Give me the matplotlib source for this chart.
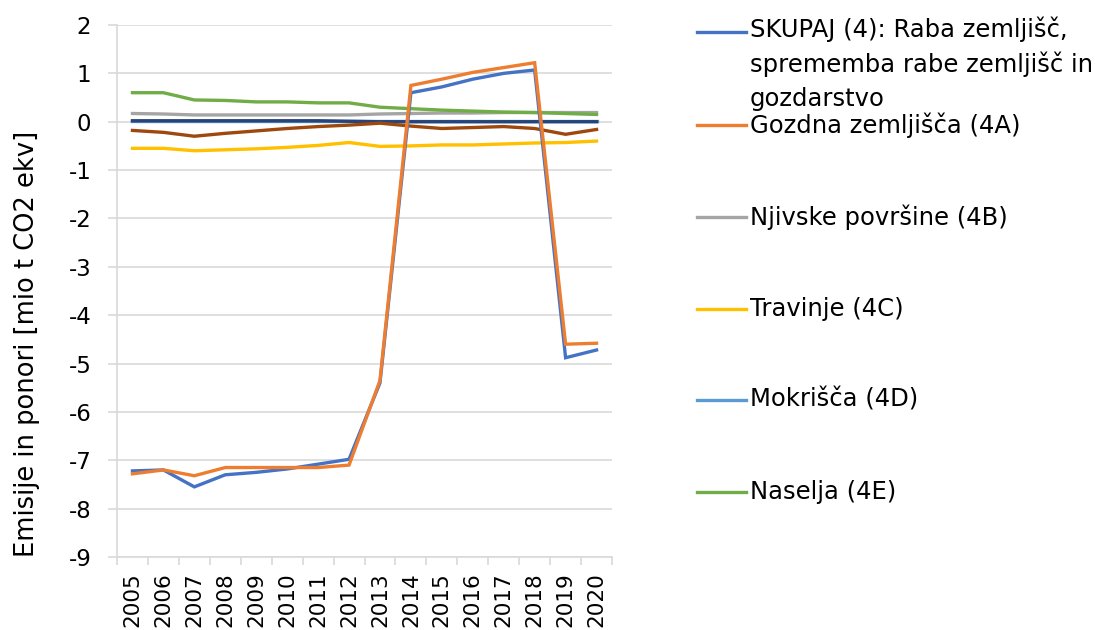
import matplotlib
matplotlib.use("Agg")
import matplotlib.pyplot as plt
from matplotlib.lines import Line2D

years = list(range(2005, 2021))

skupaj = [-7.22, -7.20, -7.55, -7.30, -7.25, -7.18, -7.08, -6.98, -5.40, 0.60, 0.72, 0.88, 1.00, 1.07, -4.88, -4.72]
gozdna = [-7.28, -7.20, -7.32, -7.15, -7.15, -7.15, -7.15, -7.10, -5.35, 0.75, 0.88, 1.02, 1.12, 1.22, -4.60, -4.58]
njivske = [0.17, 0.16, 0.14, 0.14, 0.14, 0.14, 0.14, 0.14, 0.16, 0.17, 0.18, 0.18, 0.19, 0.19, 0.19, 0.19]
travinje = [-0.55, -0.55, -0.60, -0.58, -0.56, -0.53, -0.49, -0.43, -0.51, -0.50, -0.48, -0.48, -0.46, -0.44, -0.43, -0.40]
mokrisca = [0.01, 0.01, 0.01, 0.01, 0.01, 0.01, 0.01, 0.01, 0.01, 0.01, 0.01, 0.01, 0.01, 0.01, 0.01, 0.01]
naselja = [0.60, 0.60, 0.45, 0.44, 0.41, 0.41, 0.39, 0.39, 0.30, 0.27, 0.24, 0.22, 0.20, 0.19, 0.17, 0.15]
druga = [0.02, 0.02, 0.02, 0.02, 0.02, 0.02, 0.02, 0.01, 0.00, 0.00, 0.00, 0.00, 0.00, 0.00, 0.00, 0.00]
lesni = [-0.18, -0.22, -0.30, -0.24, -0.19, -0.14, -0.10, -0.07, -0.03, -0.09, -0.14, -0.12, -0.10, -0.14, -0.26, -0.16]

legend_labels = [
    "SKUPAJ (4): Raba zemljišč,\nsprememba rabe zemljišč in\ngozdarstvo",
    "Gozdna zemljišča (4A)",
    "Njivske površine (4B)",
    "Travinje (4C)",
    "Mokrišča (4D)",
    "Naselja (4E)",
]
colors = ["#4472C4", "#ED7D31", "#A5A5A5", "#FFC000", "#5B9BD5", "#70AD47", "#264478", "#9E480E"]

plt.rcParams['font.family'] = ['DejaVu Sans']

fig = plt.figure(figsize=(10.95, 6.3), dpi=100)
ax = fig.add_axes([117/1095, 1-557/630, (612-117)/1095, (557-25)/630])

series = [skupaj, gozdna, njivske, travinje, mokrisca, naselja, druga, lesni]
zorder = [5, 6, 3, 3, 2, 3, 3, 3]
for s, c, z in zip(series, colors, zorder):
    ax.plot(years, s, color=c, lw=2.4, zorder=z, solid_joinstyle='miter')

ax.set_xlim(2004.5, 2020.5)
ax.set_ylim(-9, 2)
ax.set_yticks(range(-9, 3))
ax.set_yticklabels([str(v) for v in range(-9, 3)], fontsize=16.5)
ax.set_xticks(years)
ax.set_xticklabels([str(y) for y in years], rotation=90, fontsize=15.5)
ax.tick_params(axis='x', which='major', length=0, pad=11)
ax.set_xticks([y + 0.5 for y in range(2004, 2021)], minor=True)
ax.tick_params(axis='x', which='minor', length=6, color='#D9D9D9', width=1.2)
ax.tick_params(axis='y', length=6.5, color='#D9D9D9', width=1.2, pad=12)
ax.grid(axis='y', color='#D9D9D9', lw=1.2, zorder=0)
ax.set_axisbelow(True)
for sp in ['top', 'right']:
    ax.spines[sp].set_visible(False)
for sp in ['left', 'bottom']:
    ax.spines[sp].set_color('#D9D9D9')
    ax.spines[sp].set_linewidth(1.2)

ax.set_ylabel("Emisije in ponori [mio t CO2 ekv]", fontsize=18.5)
ax.yaxis.set_label_coords(-0.156, 0.40)

# legend (manual layout like the original)
ys = [32, 125, 217, 309, 400, 492]
for lab, c, y in zip(legend_labels, colors[:6], ys):
    fy = 1 - y / 630
    fig.add_artist(Line2D([697/1095, 746/1095], [fy, fy], color=c, lw=2.4))
    if "\n" in lab:
        fig.text(750/1095, 1 - (y - 16) / 630, lab, fontsize=17.5, va='top', ha='left', linespacing=1.5)
    else:
        fig.text(750/1095, fy, lab, fontsize=17.5, va='center', ha='left')

fig.savefig("out.png", dpi=100)
